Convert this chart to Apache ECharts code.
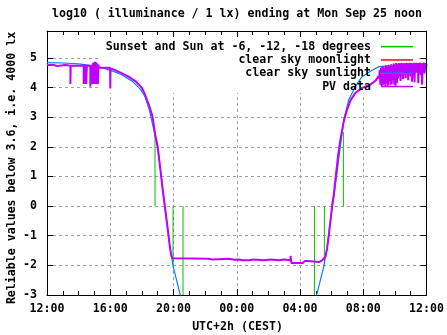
<!DOCTYPE html>
<html><head><meta charset="utf-8">
<script src="https://cdn.jsdelivr.net/npm/echarts@6/dist/echarts.min.js"></script>
<style>html,body{margin:0;padding:0;background:#fff}#c{width:447px;height:335px}</style>
</head><body><div id="c"></div>
<script>
const titleText = 'log10 ( illuminance / 1 lx) ending at Mon Sep 25 noon';
const xAxisName = 'UTC+2h (CEST)';
const yAxisName = 'Reliable values below 3.6, i.e. 4000 lx';
const xTickLabels = ['12:00','16:00','20:00','00:00','04:00','08:00','12:00'];
const seriesNames = ['Sunset and Sun at -6, -12, -18 degrees','clear sky moonlight','clear sky sunlight','PV data'];

// vertical sun markers (hours after 12:00 noon)
const sunHours  = [6.83, 7.97, 8.60, 16.91, 17.54, 18.74];
const sunTop    = [2.5, 0, 0, 0, 0, 2.5];
const sunBottom = [0, -2, -3, -3, -2, 0];

// clear sky moonlight (not visible in range)
const moonHours = [];
const moonValues = [];

// clear sky sunlight model
const clearHours = [0,1.0,2.0,2.7,3.3,4.0,4.7,5.4,5.9,6.2,6.47,6.65,6.8,7.0,7.2,7.41,7.62,7.83,7.98,8.19,8.40,8.5,
  12,
  16.95,17.08,17.29,17.50,17.71,17.93,18.13,18.34,18.56,18.77,19.08,19.5,19.92,20.5,21.0,22.0,23.0,24.0];
const clearValues = [4.84,4.83,4.80,4.75,4.69,4.59,4.44,4.21,3.95,3.69,3.25,2.82,2.47,1.99,1.12,0.10,-0.73,-1.59,-2.04,-2.49,-2.94,-3.1,
  '-',
  -3.1,-2.94,-2.49,-2.04,-1.43,-0.43,0.27,1.12,2.07,2.92,3.59,4.04,4.37,4.57,4.71,4.75,4.77,4.80];

// PV measurement
const pvHours = [0,0.43,0.43,0.64,0.64,1.17,1.17,1.48,1.48,1.50,2.32,2.32,2.36,2.40,2.44,2.48,2.52,2.74,2.74,2.77,
  2.86,2.86,2.89,2.92,2.95,2.98,3.01,3.04,3.07,3.10,3.13,3.16,3.19,3.22,3.25,3.28,3.99,4.0,4.02,
  4.32,4.74,5.16,5.58,5.83,6.0,6.15,6.32,6.47,6.67,6.84,6.99,7.14,7.30,7.45,7.62,7.77,7.87,7.94,8.05,
  10.20,10.20,10.45,10.45,11.50,11.50,11.85,11.93,12.14,12.35,12.77,12.77,13.09,13.09,13.72,13.72,14.14,14.14,
  14.67,14.67,14.98,14.98,15.40,15.40,15.45,16.18,16.18,16.30,16.30,16.50,16.50,17.19,17.29,
  17.40,17.61,17.71,17.82,17.93,18.03,18.13,18.24,18.41,18.56,18.77,18.97,19.19,19.50,19.92,20.45,20.55,20.80,20.95,
  21.00,21.04,21.08,21.12,21.16,21.20,21.24,21.28,21.32,21.36,21.40,21.44,21.48,21.52,21.56,21.60,21.64,21.68,21.72,21.76,
  21.80,21.84,21.88,21.92,21.96,22.00,22.04,22.08,22.12,22.16,22.20,22.24,22.28,22.32,22.36,22.40,22.44,22.48,22.52,22.56,
  22.60,22.64,22.68,22.72,22.76,22.80,22.84,22.88,22.92,22.96,23.00,23.04,23.08,23.12,23.16,23.20,23.24,23.28,23.32,23.36,
  23.40,23.44,23.48,23.52,23.56,23.60,23.64,23.68,23.72,23.76,23.80,23.84,23.88,23.92,23.96,24.00];
const pvValues = [4.76,4.76,4.73,4.73,4.76,4.76,4.74,4.74,4.12,4.74,4.74,4.12,4.79,4.12,4.77,4.12,4.74,4.74,4.03,4.74,
  4.74,4.12,4.82,4.15,4.85,4.12,4.87,4.13,4.87,4.12,4.83,4.17,4.80,4.12,4.77,4.67,4.67,3.97,4.65,
  4.59,4.48,4.37,4.22,4.09,3.99,3.82,3.59,3.37,3.03,2.42,2.03,1.37,0.62,0.02,-0.71,-1.38,-1.68,-1.76,-1.78,
  -1.78,-1.80,-1.80,-1.78,-1.78,-1.81,-1.81,-1.80,-1.80,-1.83,-1.83,-1.80,-1.80,-1.83,-1.83,-1.80,-1.80,-1.83,
  -1.83,-1.80,-1.80,-1.83,-1.83,-1.68,-1.92,-1.92,-1.89,-1.89,-1.85,-1.85,-1.89,-1.89,-1.85,
  -1.83,-1.70,-1.43,-0.98,-0.48,0.02,0.37,0.92,1.72,2.27,2.87,3.25,3.57,3.82,3.99,4.10,4.15,4.25,4.38,
  4.30,4.59,4.10,4.67,4.05,4.69,4.08,4.72,4.12,4.67,4.03,4.75,4.15,4.69,4.06,4.77,4.20,4.73,4.08,4.79,
  4.12,4.75,4.25,4.81,4.10,4.77,4.06,4.83,4.15,4.79,4.30,4.83,4.38,4.81,4.22,4.84,4.45,4.81,4.28,4.83,
  4.48,4.82,4.32,4.84,4.50,4.83,4.25,4.82,4.52,4.84,4.38,4.83,4.20,4.82,4.50,4.84,4.18,4.83,4.55,4.84,
  4.50,4.83,4.15,4.82,4.58,4.84,4.42,4.83,4.10,4.81,4.60,4.84,4.48,4.83,4.62,4.79];

const FONT = {fontFamily: 'DejaVu Sans Mono', fontWeight: 'bold', fontSize: 11.6, color: '#000'};

function pairs(hs, vs) { return hs.map((h, i) => [h, vs[i]]); }
const sunData = [];
sunHours.forEach((h, i) => { sunData.push([h, sunTop[i]], [h, sunBottom[i]], [h, '-']); });

const chart = echarts.init(document.getElementById('c'), null, {renderer: 'canvas'});
const axisLineStyle = {color: '#000', width: 1};
const option = {
  animation: false,
  backgroundColor: '#fff',
  title: {text: titleText, left: 52, top: 8, padding: 0, textStyle: FONT},
  grid: {left: 47, right: 19, top: 31, bottom: 40, containLabel: false},
  legend: {
    orient: 'vertical', right: 34, top: 40, align: 'right', padding: 0,
    icon: 'rect', itemWidth: 32, itemHeight: 1.5, itemGap: 0, selectedMode: false,
    textStyle: Object.assign({}, FONT, {lineHeight: 13.3, padding: [0, 5, 0, 0]}),
    data: seriesNames
  },
  xAxis: [{
    type: 'value', min: 0, max: 24, interval: 4, position: 'bottom', z: 0,
    axisLine: {show: true, onZero: false, lineStyle: axisLineStyle},
    axisTick: {show: true, inside: true, length: 6, lineStyle: axisLineStyle},
    minorTick: {show: true, splitNumber: 4, length: 4, lineStyle: axisLineStyle},
    axisLabel: Object.assign({formatter: v => xTickLabels[Math.round(v / 4)] || '', margin: 8}, FONT),
    splitLine: {show: true, lineStyle: {color: '#a0a0a0', type: [3, 3], width: 1}}
  }, {
    type: 'value', min: 0, max: 24, interval: 4, position: 'top', z: 3,
    axisLine: {show: true, onZero: false, lineStyle: axisLineStyle},
    axisTick: {show: true, inside: true, length: 6, lineStyle: axisLineStyle},
    minorTick: {show: true, splitNumber: 4, length: 4, lineStyle: axisLineStyle},
    axisLabel: {show: false}, splitLine: {show: false}
  }],
  yAxis: [{
    type: 'value', min: -3, max: 5.91, interval: 1, position: 'left', z: 0,
    axisLine: {show: true, onZero: false, lineStyle: axisLineStyle},
    axisTick: {show: true, inside: true, length: 6, lineStyle: axisLineStyle},
    axisLabel: Object.assign({formatter: v => (Number.isInteger(v) ? String(v) : ''), margin: 10}, FONT),
    splitLine: {show: true, lineStyle: {color: '#a0a0a0', type: [3, 3], width: 1}}
  }, {
    type: 'value', min: -3, max: 5.91, interval: 1, position: 'right', z: 3,
    axisLine: {show: true, onZero: false, lineStyle: axisLineStyle},
    axisTick: {show: true, inside: true, length: 6, lineStyle: axisLineStyle},
    axisLabel: {show: false}, splitLine: {show: false}
  }],
  graphic: [
    {type: 'rect', z: 1, silent: true, shape: {x: 100, y: 32, width: 316, height: 61}, style: {fill: '#fff'}},
    {type: 'text', z: 5, x: 237.5, y: 327, style: {text: xAxisName, align: 'center', verticalAlign: 'middle',
      font: 'bold 11.6px "DejaVu Sans Mono"', fill: '#000'}},
    {type: 'text', z: 5, x: 12, y: 168, rotation: Math.PI / 2, style: {text: yAxisName, align: 'center', verticalAlign: 'middle',
      font: 'bold 11.6px "DejaVu Sans Mono"', fill: '#000'}}
  ],
  series: [
    {name: seriesNames[0], type: 'line', data: sunData, symbol: 'none', connectNulls: false,
      lineStyle: {color: '#00c000', width: 1}, itemStyle: {color: '#00c000'}, z: 2},
    {name: seriesNames[1], type: 'line', data: pairs(moonHours, moonValues), symbol: 'none',
      lineStyle: {color: '#ff0000', width: 1}, itemStyle: {color: '#ff0000'}, z: 2},
    {name: seriesNames[2], type: 'line', data: pairs(clearHours, clearValues), symbol: 'none', connectNulls: false,
      lineStyle: {color: '#0080ff', width: 1.2}, itemStyle: {color: '#0080ff'}, z: 2},
    {name: seriesNames[3], type: 'line', data: pairs(pvHours, pvValues), symbol: 'none',
      lineStyle: {color: '#c000ff', width: 2}, itemStyle: {color: '#c000ff'}, z: 2}
  ]
};
chart.setOption(option);
</script></body></html>
